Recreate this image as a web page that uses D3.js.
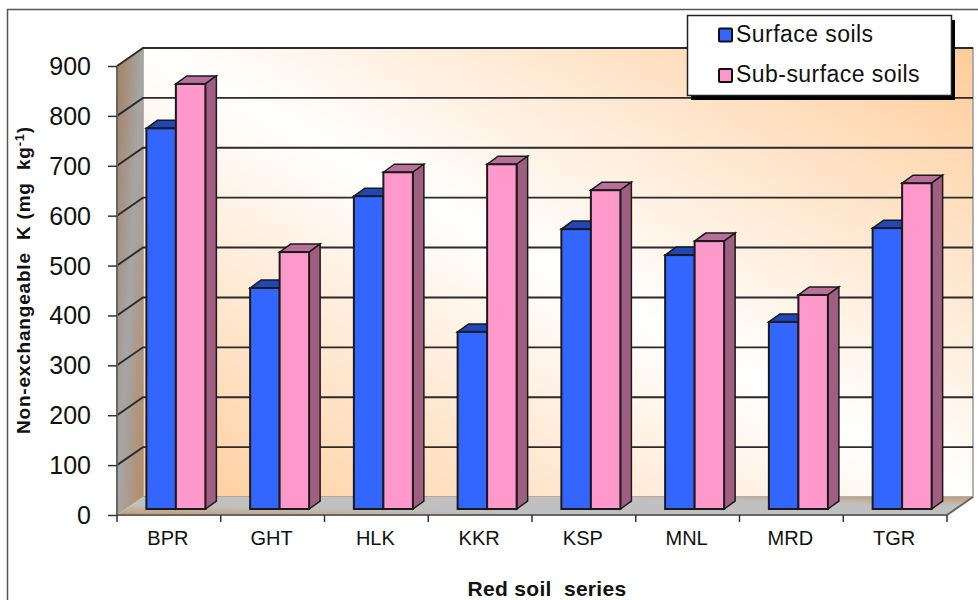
<!DOCTYPE html>
<html>
<head>
<meta charset="utf-8">
<script src="https://cdn.jsdelivr.net/npm/d3@7"></script>
<style>
  html, body { margin: 0; padding: 0; background: #fff; }
  text { font-family: "Liberation Sans", Arial, sans-serif; fill: #111; white-space: pre; }
</style>
</head>
<body>
<div id="chart"></div>
<script>
// Non-exchangeable K
var categories = ["BPR", "GHT", "HLK", "KKR", "KSP", "MNL", "MRD", "TGR"];
var surface = [763, 443, 627, 355, 561, 509, 375, 563];
var subSurface = [852, 515, 675, 691, 639, 537, 429, 653];
var seriesNames = ["Surface soils", "Sub-surface soils"];
var yTicks = [0, 100, 200, 300, 400, 500, 600, 700, 800, 900];

var width = 978, height = 600;
var wall = {dx: 26, dy: -18};    // depth of the 3d box
var barNear = {dx: 7, dy: -6};   // bar front face, from the front plane
var barDepth = {dx: 11, dy: -8};

var svg = d3.select("#chart").append("svg")
    .attr("width", width)
    .attr("height", height)
    .style("display", "block");

var x = d3.scaleBand().domain(categories).range([117, 947]);
var inner = d3.scaleBand().domain(seriesNames).range([0, 59]);
var y = d3.scaleLinear().domain([0, 900]).range([515, 66]);

var barPad = (x.bandwidth() - 59) / 2;

var defs = svg.append("defs");

function diagGradient(id, x1, y1, x2, y2, stops) {
  var g = defs.append("linearGradient").attr("id", id)
      .attr("x1", x1).attr("y1", y1).attr("x2", x2).attr("y2", y2);
  stops.forEach(function(s) {
    g.append("stop").attr("offset", s[0]).attr("stop-color", s[1]);
  });
}
diagGradient("backFill", 0, 1, 1, 0, [[0, "#ffcc99"], [0.5, "#ffffff"], [1, "#ffcc99"]]);
diagGradient("leftFill", 0, 0, 1, 1, [[0, "#a5805f"], [0.5, "#a6a6a6"], [1, "#b58a63"]]);
diagGradient("floorFill", 0, 1, 1, 0, [[0, "#c49a70"], [0.3, "#c0c0c0"], [0.75, "#c0c0c0"], [1, "#c49a70"]]);

// outer frame, only top and left show
svg.append("path")
    .attr("d", "M7.5,600V9.5H978")
    .attr("fill", "none")
    .attr("stroke", "#555")
    .attr("stroke-width", 1.5);

var x0 = x.range()[0], x1 = x.range()[1];

svg.append("rect")
    .attr("x", x0 + wall.dx)
    .attr("y", y(900) + wall.dy)
    .attr("width", x1 - x0)
    .attr("height", y(0) - y(900))
    .attr("fill", "url(#backFill)")
    .attr("stroke", "#999")
    .attr("stroke-width", 1.5);

svg.append("path")
    .attr("d", d3.line()([
      [x0, y(0)], [x0, y(900)], [x0 + wall.dx, y(900) + wall.dy], [x0 + wall.dx, y(0) + wall.dy]
    ]) + "Z")
    .attr("fill", "url(#leftFill)");

svg.append("path")
    .attr("d", d3.line()([
      [x0, y(0)], [x0 + wall.dx, y(0) + wall.dy], [x1 + wall.dx, y(0) + wall.dy], [x1, y(0)]
    ]) + "Z")
    .attr("fill", "url(#floorFill)");

// gridlines on the back wall and their run along the left wall
svg.append("g").selectAll("path").data(yTicks.filter(function(d) { return d > 0; })).enter()
  .append("path")
    .attr("d", function(d) {
      return d3.line()([[x0, y(d)], [x0 + wall.dx, y(d) + wall.dy], [x1 + wall.dx, y(d) + wall.dy]]);
    })
    .attr("fill", "none")
    .attr("stroke", "#2b2b2b")
    .attr("stroke-width", 1.9);

svg.append("path")
    .attr("d", "M" + x0 + "," + y(900) + "V" + y(0) + "H" + x1 + "l" + wall.dx + "," + wall.dy)
    .attr("fill", "none")
    .attr("stroke", "#666")
    .attr("stroke-width", 2);

var bars = [
  {name: seriesNames[0], values: surface, front: "#3366ff", top: "#1f47b8", side: "#1f47b8"},
  {name: seriesNames[1], values: subSurface, front: "#ff99cc", top: "#b86f98", side: "#a05f80"}
];

function barX(cat, name) {
  return x(cat) + barPad + inner(name) + barNear.dx;
}
function barY(v) {
  return y(v) + barNear.dy;
}

var barStroke = "#1a1a1a";

bars.forEach(function(s) {
  var g = svg.append("g");
  var w = inner.bandwidth();

  g.selectAll("path.top").data(s.values).enter()
    .append("path")
      .attr("class", "top")
      .attr("d", function(d, i) {
        var bx = barX(categories[i], s.name), by = barY(d);
        return d3.line()([[bx, by], [bx + barDepth.dx, by + barDepth.dy],
          [bx + w + barDepth.dx, by + barDepth.dy], [bx + w, by]]) + "Z";
      })
      .attr("fill", s.top)
      .attr("stroke", barStroke)
      .attr("stroke-width", 1.5);

  g.selectAll("path.side").data(s.values).enter()
    .append("path")
      .attr("class", "side")
      .attr("d", function(d, i) {
        var bx = barX(categories[i], s.name) + w, by = barY(d);
        return d3.line()([[bx, by], [bx + barDepth.dx, by + barDepth.dy],
          [bx + barDepth.dx, barY(0) + barDepth.dy], [bx, barY(0)]]) + "Z";
      })
      .attr("fill", s.side)
      .attr("stroke", barStroke)
      .attr("stroke-width", 1.5);

  g.selectAll("rect").data(s.values).enter()
    .append("rect")
      .attr("x", function(d, i) { return barX(categories[i], s.name); })
      .attr("y", function(d) { return barY(d); })
      .attr("width", w)
      .attr("height", function(d) { return barY(0) - barY(d); })
      .attr("fill", s.front)
      .attr("stroke", barStroke)
      .attr("stroke-width", 2);
});

// axes
var yAxis = svg.append("g")
    .attr("transform", "translate(" + x0 + ",0)")
    .call(d3.axisLeft(y).tickValues(yTicks).tickSize(9).tickPadding(17).tickSizeOuter(0));
yAxis.select(".domain").remove();
yAxis.selectAll("line").attr("stroke", "#333").attr("stroke-width", 1.5);
yAxis.selectAll("text").style("font-size", "25px").attr("dy", "0.34em").attr("fill", "#111");

var xAxis = svg.append("g")
    .attr("transform", "translate(0," + y(0) + ")")
    .call(d3.axisBottom(x).tickSize(0).tickPadding(10));
xAxis.select(".domain").remove();
xAxis.selectAll("text")
    .style("font-size", "20px")
    .attr("dx", -1)
    .attr("dy", "1em")
    .attr("fill", "#222");

// category separators sit at the band edges
svg.append("g").selectAll("line").data(d3.range(categories.length + 1)).enter()
  .append("line")
    .attr("x1", function(i) { return x0 + i * x.step(); })
    .attr("x2", function(i) { return x0 + i * x.step(); })
    .attr("y1", y(0))
    .attr("y2", y(0) + 7)
    .attr("stroke", "#333")
    .attr("stroke-width", 1.5);

svg.append("text")
    .attr("x", 547)
    .attr("y", 596)
    .attr("text-anchor", "middle")
    .style("font-size", "21px")
    .style("font-weight", "bold")
    .style("letter-spacing", "0.3px")
    .text("Red soil  series");

var yTitle = svg.append("text")
    .attr("transform", "translate(30,280) rotate(-90)")
    .attr("text-anchor", "middle")
    .style("font-size", "19px")
    .style("font-weight", "bold")
    .style("letter-spacing", "0.8px");
yTitle.append("tspan").text("Non-exchangeable  K (mg  kg");
yTitle.append("tspan").attr("dy", -6).style("font-size", "13px").text("-1");
yTitle.append("tspan").attr("dy", 6).text(")");

// legend
svg.append("rect").attr("x", 691).attr("y", 20)
    .attr("width", 264).attr("height", 80).attr("fill", "#000");
svg.append("rect").attr("x", 687.5).attr("y", 15.5)
    .attr("width", 264).attr("height", 80)
    .attr("fill", "#fff").attr("stroke", "#222").attr("stroke-width", 1.5);

var legend = svg.append("g").selectAll("g").data(bars).enter()
  .append("g")
    .attr("transform", function(d, i) { return "translate(719," + (28.5 + i * 40.5) + ")"; });
legend.append("rect")
    .attr("width", 13).attr("height", 13).attr("rx", 1)
    .attr("fill", function(d) { return d.front; })
    .attr("stroke", "#111").attr("stroke-width", 2);
legend.append("text")
    .attr("x", 17)
    .attr("y", 13)
    .style("font-size", "23px")
    .style("letter-spacing", "0.45px")
    .text(function(d) { return d.name; });
</script>
</body>
</html>
